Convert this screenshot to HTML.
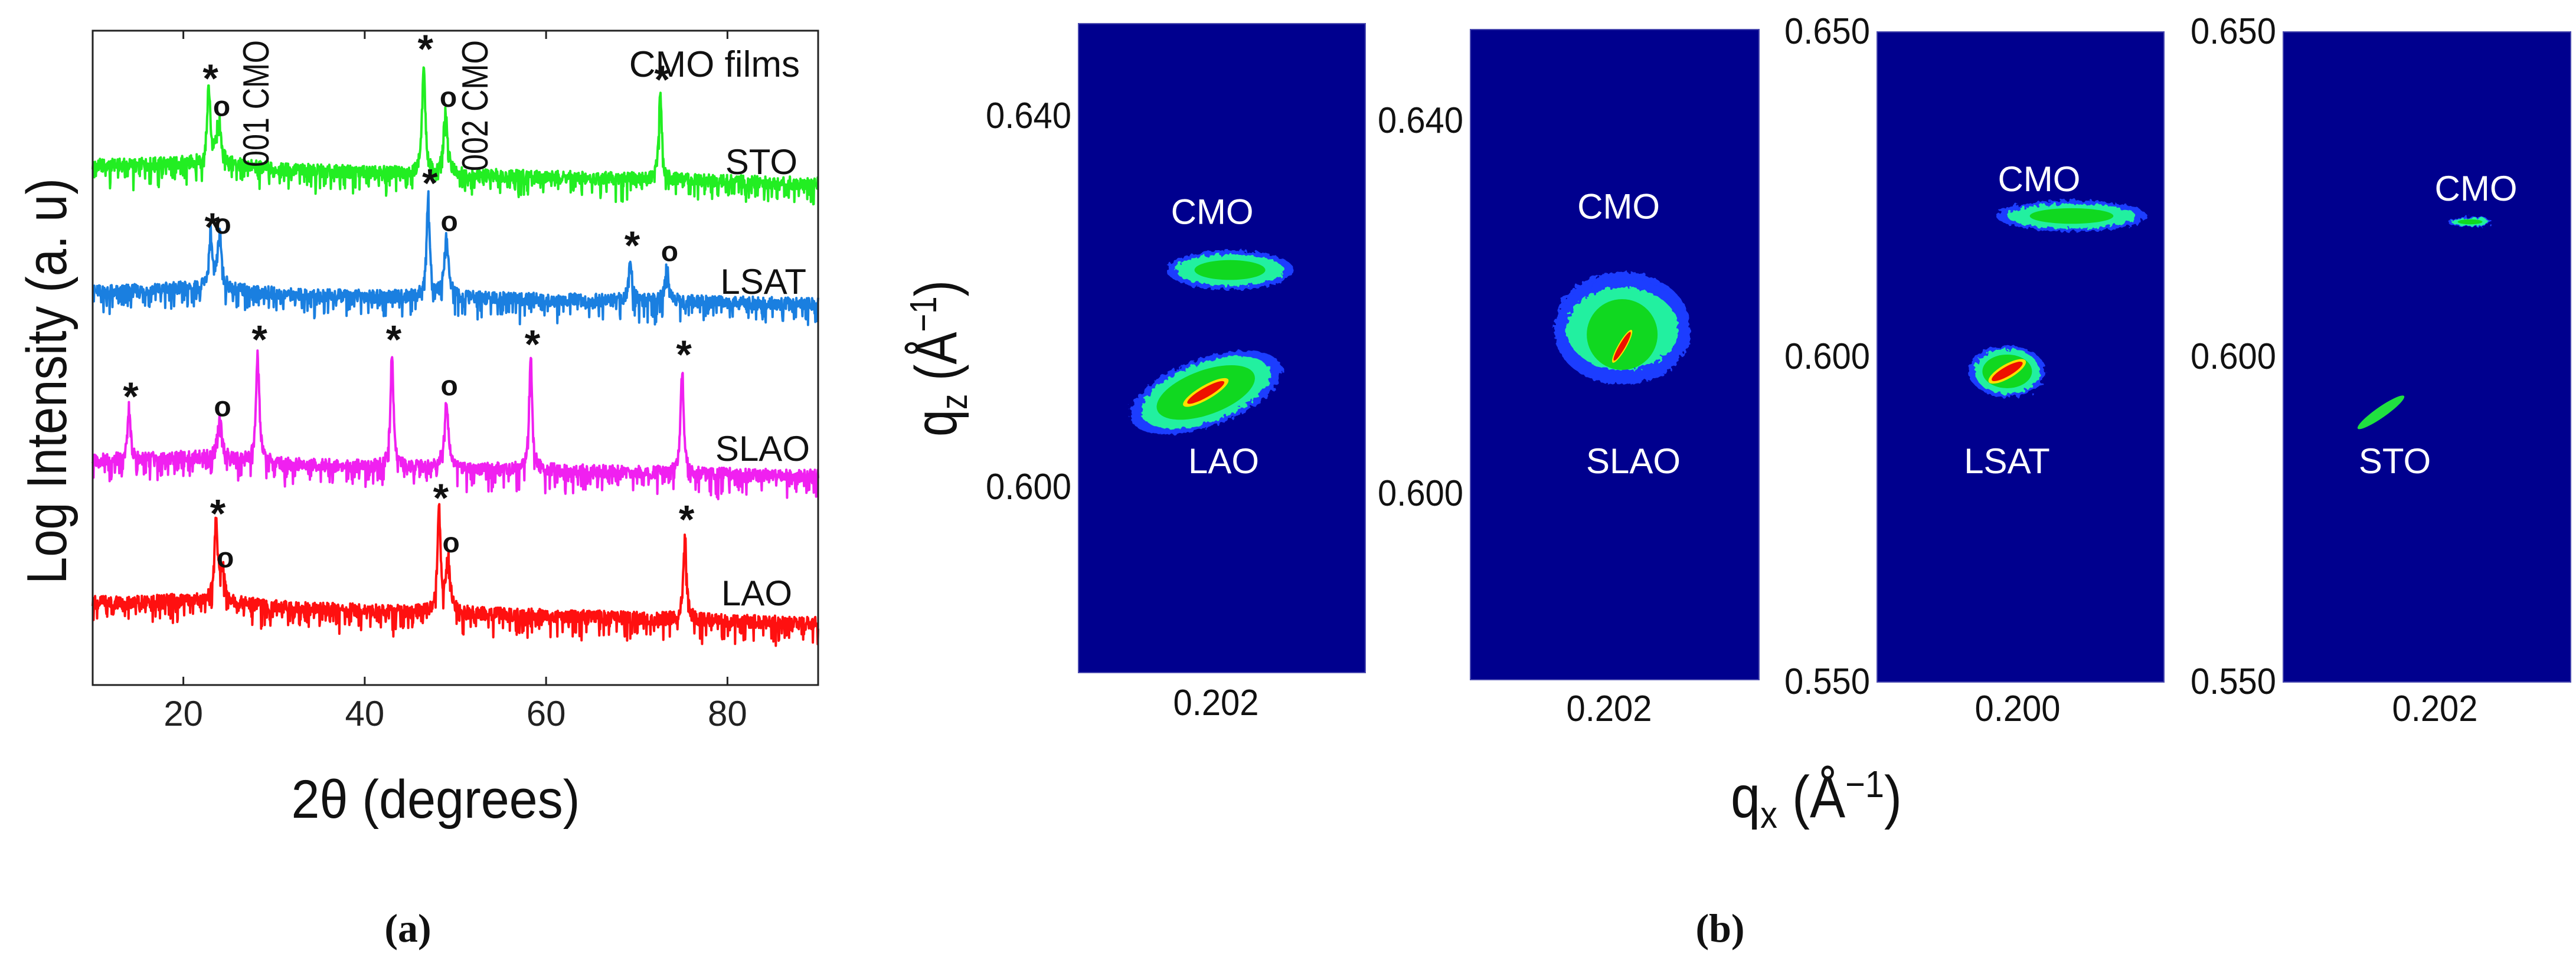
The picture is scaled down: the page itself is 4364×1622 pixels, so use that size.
<!DOCTYPE html>
<html><head><meta charset="utf-8"><style>
html,body{margin:0;padding:0;background:#fff;}
svg{display:block;font-family:"Liberation Sans",sans-serif;}
</style></head><body>
<svg id="fig" width="4364" height="1622" viewBox="0 0 4364 1622" xmlns="http://www.w3.org/2000/svg">
<g id="left"></g>
<g id="right"></g>
</svg>
<script>
// ---------- Panel (a) data ----------
const traceNames = ["STO","LSAT","SLAO","LAO"];
const traceColors = ["#22ee22","#1a7fe0","#f020f0","#ff1010"];
const baseStart = [79.4, 60.1, 34.3, 12.6];
const baseEnd = [76.6, 58.2, 31.9, 9.4];
const peakPos = [[22.8,23.9,46.5,48.9,72.6],[23.0,24.0,47.0,49.0,69.3,73.3],[14.0,24.0,28.2,43.0,49.0,58.3,75.0],[23.6,24.3,48.2,49.2,75.3]];
const peakTop = [[90.8,85.9,95.3,87.3,90.6],[68.1,67.9,74.8,68.3,65.3,63.7],[42.2,40.0,50.9,50.9,43.2,50.2,48.6],[24.3,16.9,26.7,19.2,23.4]];
const peakKind = [["*","o","*","o","*"],["*","o","*","o","*","o"],["*","o","*","*","o","*","*"],["*","o","*","o","*"]];
const xTicks = [20,40,60,80];

const NS="http://www.w3.org/2000/svg";
function mk(tag,attrs,parent,text){const e=document.createElementNS(NS,tag);for(const k in attrs)e.setAttribute(k,attrs[k]);if(text!==undefined)e.textContent=text;parent.appendChild(e);return e;}

const L=document.getElementById('left');
const bx0=157,bx1=1386,by0=52,by1=1161;
const xs=v=>bx0+(v-10)/(90-10)*(bx1-bx0);
const ys=v=>by1-v*(by1-by0)/100;

function hash(i,s){const x=Math.sin(i*12.9898+s*78.233)*43758.5453;return x-Math.floor(x);}
for(let t=0;t<4;t++){
  let d="";
  const n=1800;
  for(let i=0;i<=n;i++){
    const x=10+80*i/n;
    const base=baseStart[t]+(baseEnd[t]-baseStart[t])*(x-10)/80;
    let v=base;
    for(let p=0;p<peakPos[t].length;p++){
      const c=peakPos[t][p];
      const baseAt=baseStart[t]+(baseEnd[t]-baseStart[t])*(c-10)/80;
      const amp=peakTop[t][p]-baseAt;
      const w=(peakKind[t][p]==="o")?0.28:0.2;
      v+=amp/(1+Math.pow((x-c)/w,2));
    }
    if(x<40) v+=0.8*Math.exp(-Math.pow((x-22)/7,2));
    const r=hash(i,t+1);
    v+= (r-0.5)*2.0;
    if(hash(i,t+11)>0.8) v-=hash(i,t+21)*3.0;
    d+=(i?"L":"M")+xs(x).toFixed(1)+","+ys(v).toFixed(1);
  }
  const path=mk('path',{d:d,fill:'none',stroke:traceColors[t],'stroke-width':4,'stroke-linejoin':'round'},L);
  
  
  for(let p=0;p<peakPos[t].length;p++){
    const kind=peakKind[t][p];
    const yy=ys(peakTop[t][p]);
    const m=mk('text',{x:xs(peakPos[t][p])+(kind==="o"?5:3),y:kind==="*"?yy+2:yy-12,'text-anchor':'middle','font-size':kind==="*"?68:48,'font-weight':'bold',fill:'#111'},L,kind);
    
    
  }
}
// frame
const fr=mk('rect',{x:bx0,y:by0,width:bx1-bx0,height:by1-by0,fill:'none',stroke:'#222','stroke-width':3},L);


xTicks.forEach(v=>{
  mk('line',{x1:xs(v),x2:xs(v),y1:by1,y2:by1-14,stroke:'#222','stroke-width':3},L);
  mk('line',{x1:xs(v),x2:xs(v),y1:by0,y2:by0+14,stroke:'#222','stroke-width':3},L);
  const tl=mk('text',{x:xs(v),y:1230,'text-anchor':'middle','font-size':60,fill:'#222'},L,String(v));
  
  
});
</script>
<script>
(function(){
const L=document.getElementById('left');
function t(attrs,txt,name){const e=document.createElementNS("http://www.w3.org/2000/svg",'text');for(const k in attrs)e.setAttribute(k,attrs[k]);e.textContent=txt;L.appendChild(e);}
t({x:738,y:1386,'text-anchor':'middle','font-size':92,textLength:489,lengthAdjust:'spacingAndGlyphs',fill:'#111'},'2θ (degrees)','x-axis-title');
t({x:0,y:0,transform:'translate(112,646) rotate(-90)','text-anchor':'middle','font-size':96,textLength:688,lengthAdjust:'spacingAndGlyphs',fill:'#111'},'Log Intensity (a. u)','y-axis-title');
t({x:1355,y:130,'text-anchor':'end','font-size':62,fill:'#111'},'CMO films','legend-title');
t({x:1351,y:295,'text-anchor':'end','font-size':60,fill:'#111'},'STO','label-sto');
t({x:1366,y:498,'text-anchor':'end','font-size':60,fill:'#111'},'LSAT','label-lsat');
t({x:1372,y:781,'text-anchor':'end','font-size':60,fill:'#111'},'SLAO','label-slao');
t({x:1342,y:1026,'text-anchor':'end','font-size':60,fill:'#111'},'LAO','label-lao');
t({x:0,y:0,transform:'translate(455,283) rotate(-90)','font-size':62,textLength:215,lengthAdjust:'spacingAndGlyphs',fill:'#111'},'001 CMO','label-001-cmo');
t({x:0,y:0,transform:'translate(826,290) rotate(-90)','font-size':62,textLength:222,lengthAdjust:'spacingAndGlyphs',fill:'#111'},'002 CMO','label-002-cmo');
t({x:691,y:1596,'text-anchor':'middle','font-size':68,'font-weight':'bold','font-family':'Liberation Serif, serif',fill:'#111'},'(a)','caption-a');
t({x:2914,y:1596,'text-anchor':'middle','font-size':68,'font-weight':'bold','font-family':'Liberation Serif, serif',fill:'#111'},'(b)','caption-b');
})();
</script>
<script>
// ---------- Panel (b) data ----------
const panelSub = ["LAO","SLAO","LSAT","STO"];
const panelYTicks = [[0.640,0.600],[0.640,0.600],[0.650,0.600,0.550],[0.650,0.600,0.550]];
const panelXTick = [0.202,0.202,0.200,0.202];
const cmoQx = [0.2035,0.2034,0.2083,0.2074];
const cmoQz = [0.6233,0.6180,0.6215,0.6206];
const subQx = [0.2009,0.2034,0.1984,0.1937];
const subQz = [0.6101,0.6157,0.5976,0.5913];

const R=document.getElementById('right');
const NS2="http://www.w3.org/2000/svg";
function mk2(tag,attrs,parent,text){const e=document.createElementNS(NS2,tag);for(const k in attrs)e.setAttribute(k,attrs[k]);if(text!==undefined)e.textContent=text;parent.appendChild(e);return e;}
const frames=[{x0:1827,x1:2313,y0:40,y1:1140,tA:195,tB:824,xt:2060},{x0:2491,x1:2980,y0:50,y1:1152,tA:203,tB:835,xt:2726},{x0:3180,x1:3666,y0:54,y1:1156,tA:52,tB:603,xt:3418},{x0:3868,x1:4355,y0:54,y1:1156,tA:52,tB:603,xt:4125}];
const spotStyle=[
 {cmo:{rx:100,ry:28,rot:0},sub:{rx:125,ry:50,rot:-20,core:true}},
 {cmo:{rx:105,ry:75,rot:0},sub:{rx:20,ry:60,rot:35,core:true}},
 {cmo:{rx:118,ry:22,rot:0},sub:{rx:60,ry:38,rot:0,core:true}},
 {cmo:{rx:35,ry:7,rot:0},sub:{rx:48,ry:9,rot:-35,core:false}}];
const defs=mk2('defs',{},R);
const flt=mk2('filter',{id:'rough',x:'-30%',y:'-30%',width:'160%',height:'160%'},defs);
mk2('feTurbulence',{type:'fractalNoise',baseFrequency:'0.12',numOctaves:'2',result:'n'},flt);
mk2('feDisplacementMap',{in:'SourceGraphic',in2:'n',scale:'14'},flt);

for(let p=0;p<4;p++){
  const f=frames[p];
  const t0=panelYTicks[p][0], t1=panelYTicks[p][1];
  const pxPer=(f.tB-f.tA)/(t0-t1);
  const ys=q=>f.tA+(t0-q)*pxPer;
  const xs=q=>f.xt+(q-panelXTick[p])*pxPer;
  const g=mk2('g',{},R);
  
  
  mk2('rect',{x:f.x0,y:f.y0,width:f.x1-f.x0,height:f.y1-f.y0,fill:'#00008e',stroke:'#4a4ab0','stroke-width':2},g);
  const cs=spotStyle[p].cmo, cx=xs(cmoQx[p]), cy=ys(cmoQz[p]);
  const c1=mk2('g',{transform:`rotate(${cs.rot} ${cx} ${cy})`},g);
  
  
  mk2('ellipse',{cx:cx,cy:cy,rx:cs.rx*1.08,ry:cs.ry*1.2,fill:'#1a3cff',filter:'url(#rough)'},c1);
  mk2('ellipse',{cx:cx,cy:cy,rx:cs.rx*0.92,ry:cs.ry*0.95,fill:'#20f0a0',filter:'url(#rough)'},c1);
  mk2('ellipse',{cx:cx,cy:cy,rx:cs.rx*0.6,ry:cs.ry*0.6,fill:'#10d820'},c1);
  const ss=spotStyle[p].sub, sx=xs(subQx[p]), sy=ys(subQz[p]);
  const s1=mk2('g',{transform:`rotate(${ss.rot} ${sx} ${sy})`},g);
  
  
  if(p===1){
    mk2('ellipse',{cx:sx,cy:sy-25,rx:115,ry:90,fill:'#1a3cff',filter:'url(#rough)'},g);
    mk2('ellipse',{cx:sx,cy:sy-30,rx:95,ry:70,fill:'#20f0a0',filter:'url(#rough)'},g);
    mk2('ellipse',{cx:sx,cy:sy-20,rx:60,ry:60,fill:'#10d820'},g);
  } else if(ss.core){
    mk2('ellipse',{cx:sx,cy:sy,rx:ss.rx*1.08,ry:ss.ry*1.15,fill:'#1a3cff',filter:'url(#rough)'},s1);
    mk2('ellipse',{cx:sx,cy:sy,rx:ss.rx*0.92,ry:ss.ry,fill:'#20f0a0',filter:'url(#rough)'},s1);
    mk2('ellipse',{cx:sx,cy:sy,rx:ss.rx*0.7,ry:ss.ry*0.75,fill:'#10d820'},s1);
  } else {
    mk2('ellipse',{cx:sx,cy:sy,rx:ss.rx,ry:ss.ry,fill:'#20e040'},s1);
  }
  if(ss.core){
    const k=mk2('g',{transform:`rotate(${p===1?-60:-30} ${sx} ${sy})`},g);
    mk2('ellipse',{cx:sx,cy:sy,rx:p===2?36:(p===1?32:44),ry:p===1?7:12,fill:'#ffe000'},k);
    mk2('ellipse',{cx:sx,cy:sy,rx:p===2?30:(p===1?28:36),ry:p===1?5:8,fill:'#ee1000'},k);
  }
  const lc=mk2('text',{x:cx-(p===0?30:(p===1?6:(p===2?55:-10))),y:cy-(p===1?180:(p===0?78:(p===2?42:36))),'text-anchor':'middle','font-size':60,fill:'#fff'},g,'CMO');
  
  
  const lsx=[2073,2767,3400,4057][p];
  const ls=mk2('text',{x:lsx,y:802,'text-anchor':'middle','font-size':60,fill:'#fff'},g,panelSub[p]);
  
  
  panelYTicks[p].forEach(v=>{
    const tl=mk2('text',{x:f.x0-12,y:ys(v)+22,'text-anchor':'end','font-size':62,textLength:145,lengthAdjust:'spacingAndGlyphs',fill:'#111'},R,v.toFixed(3));
    
    
  });
  const xl=mk2('text',{x:xs(panelXTick[p]),y:[1212,1222,1222,1222][p],'text-anchor':'middle','font-size':62,textLength:145,lengthAdjust:'spacingAndGlyphs',fill:'#111'},R,panelXTick[p].toFixed(3));
  
  
}
const qx=mk2('text',{x:2932,y:1385,'font-size':100,fill:'#111',textLength:290,lengthAdjust:'spacingAndGlyphs'},R);


qx.innerHTML='q<tspan dy="18" font-size="64">x</tspan><tspan dy="-18"> (Å</tspan><tspan dy="-34" font-size="64">−1</tspan><tspan dy="34">)</tspan>';
const qz=mk2('text',{x:0,y:0,transform:'translate(1620,740) rotate(-90)','font-size':100,fill:'#111',textLength:265,lengthAdjust:'spacingAndGlyphs'},R);


qz.innerHTML='q<tspan dy="18" font-size="64">z</tspan><tspan dy="-18"> (Å</tspan><tspan dy="-34" font-size="64">−1</tspan><tspan dy="34">)</tspan>';
</script>
</body></html>
